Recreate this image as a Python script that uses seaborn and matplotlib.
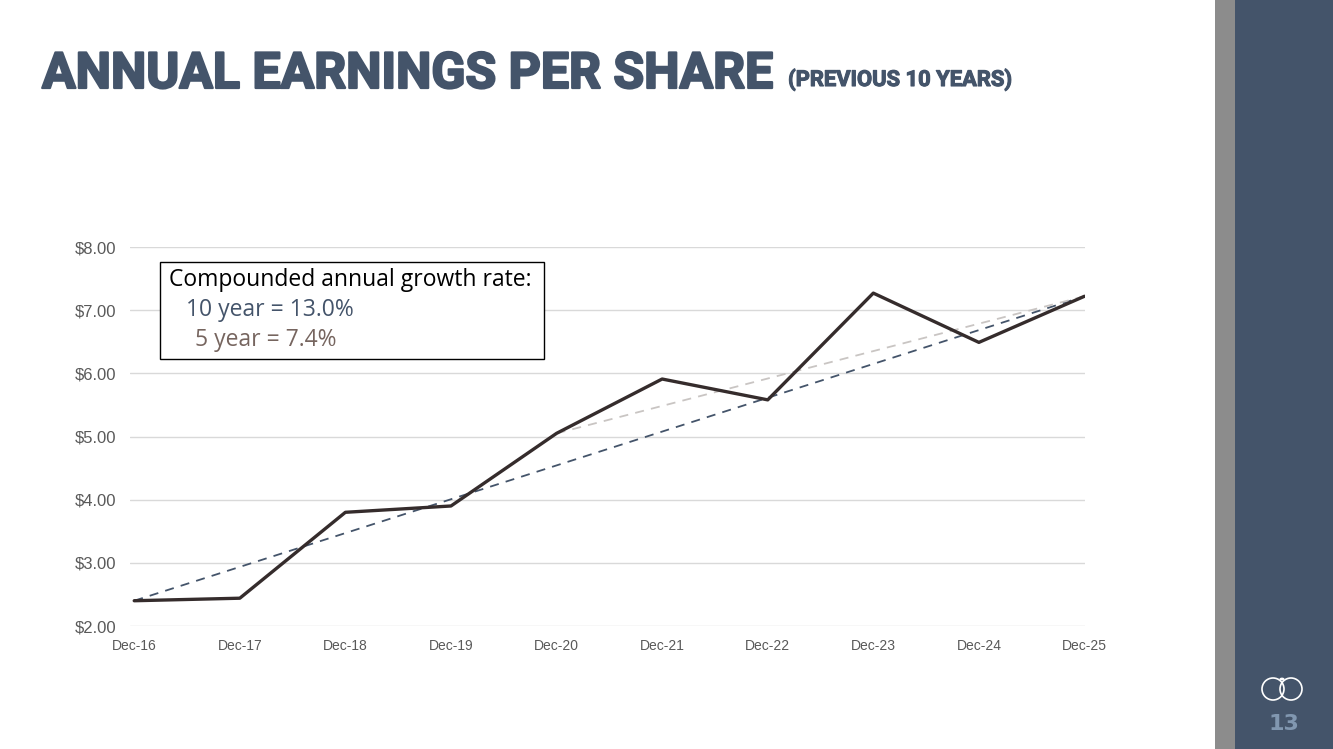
import matplotlib
matplotlib.use("Agg")
import matplotlib.pyplot as plt
import matplotlib.patches as patches
import matplotlib.patheffects as pe
import seaborn as sns
import pandas as pd

# EPS values
periods = ["Dec-16", "Dec-17", "Dec-18", "Dec-19", "Dec-20",
           "Dec-21", "Dec-22", "Dec-23", "Dec-24", "Dec-25"]
eps = [2.40, 2.44, 3.80, 3.90, 5.05, 5.91, 5.58, 7.27, 6.49, 7.22]
y_ticks = [2, 3, 4, 5, 6, 7, 8]
cagr_lines = ["Compounded annual growth rate:", "10 year = 13.0%", "5 year = 7.4%"]

SLATE = "#44546a"

df = pd.DataFrame({"period": periods, "eps": eps, "idx": range(len(periods))})

sns.set_theme(style="white")
plt.rcParams["font.family"] = ["Liberation Sans", "DejaVu Sans"]

W, H = 1333, 749
fig = plt.figure(figsize=(W / 100, H / 100), dpi=100)
fig.patch.set_facecolor("white")

# right side band
fig.add_artist(patches.Rectangle((1215 / W, 0), 20 / W, 1, transform=fig.transFigure,
                                 color="#8c8c8c", lw=0))
fig.add_artist(patches.Rectangle((1235 / W, 0), 98 / W, 1, transform=fig.transFigure,
                                 color=SLATE, lw=0))
fig.text(1284 / W, 1 - 724 / H, "13", color="#8197b0", fontsize=16, fontweight="bold",
         ha="center", va="center", family=["DejaVu Sans"])
# simple logo sketch
for cx in (1273, 1291):
    fig.add_artist(patches.Ellipse((cx / W, 1 - 689 / H), 22 / W, 22 / H,
                                   transform=fig.transFigure, fill=False,
                                   ec="white", lw=1.2))
fig.add_artist(patches.Circle((1282 / W, 1 - 679 / H), 2.5 / W, transform=fig.transFigure,
                              color="white", lw=0))

# title (stroke thickens Roboto Bold towards the heavy face of the original)
heavy = [pe.withStroke(linewidth=1.6, foreground=SLATE)]
fig.text(42 / W, 1 - 88 / H, "ANNUAL EARNINGS PER SHARE", color=SLATE, fontsize=36,
         fontweight="bold", family=["Roboto", "DejaVu Sans"], va="baseline",
         path_effects=heavy)
fig.text(788 / W, 1 - 86 / H, "(PREVIOUS 10 YEARS)", color=SLATE, fontsize=15.8,
         fontweight="bold", family=["Roboto", "DejaVu Sans"], va="baseline",
         path_effects=[pe.withStroke(linewidth=0.8, foreground=SLATE)])

ax = fig.add_axes([130 / W, 1 - 626 / H, 955 / W, 379 / H])
ax.set_facecolor("white")

# 10-year and 5-year growth lines, drawn between the endpoints of the series
trend10 = df.iloc[[0, -1]]
trend5 = df.iloc[[4, -1]]
sns.lineplot(data=trend10, x="idx", y="eps", ax=ax, color=SLATE, lw=1.3,
             linestyle=(0, (5, 4)), zorder=3)
sns.lineplot(data=trend5, x="idx", y="eps", ax=ax, color="#c9c5c3", lw=1.3,
             linestyle=(0, (5, 4)), zorder=3)
sns.lineplot(data=df, x="idx", y="eps", ax=ax, color="#352c2c", lw=2.4, zorder=4)

ax.set_xlim(-0.04, len(periods) - 1 + 0.005)
ax.set_ylim(y_ticks[0], y_ticks[-1])
ax.set_yticks(y_ticks)
ax.set_yticklabels([f"${v:.2f}" for v in y_ticks], color="#595959", fontsize=12)
ax.set_xticks(df["idx"])
ax.set_xticklabels(periods, color="#595959", fontsize=10,
                   family=["Liberation Sans Narrow", "Liberation Sans"])
ax.tick_params(axis="x", length=0, pad=9)
ax.tick_params(axis="y", length=0, pad=10)
ax.grid(axis="y", color="#d9d9d9", lw=1)
ax.set_axisbelow(True)
ax.set_xlabel("")
ax.set_ylabel("")
for s in ax.spines.values():
    s.set_visible(False)

# CAGR box
fig.add_artist(patches.Rectangle((160 / W, 1 - 359 / H), 384 / W, 97 / H,
                                 transform=fig.transFigure, fill=True, fc="white",
                                 ec="black", lw=1, zorder=10))
box_colors = ["black", SLATE, "#76655f"]
box_x = [169, 186, 195]
box_y = [280, 310, 340]
for txt, c, bx, by in zip(cagr_lines, box_colors, box_x, box_y):
    fig.text(bx / W, 1 - by / H, txt, color=c, fontsize=16.5,
             family=["Open Sans", "DejaVu Sans"], va="center", zorder=11)

fig.savefig("out.png", dpi=100)
